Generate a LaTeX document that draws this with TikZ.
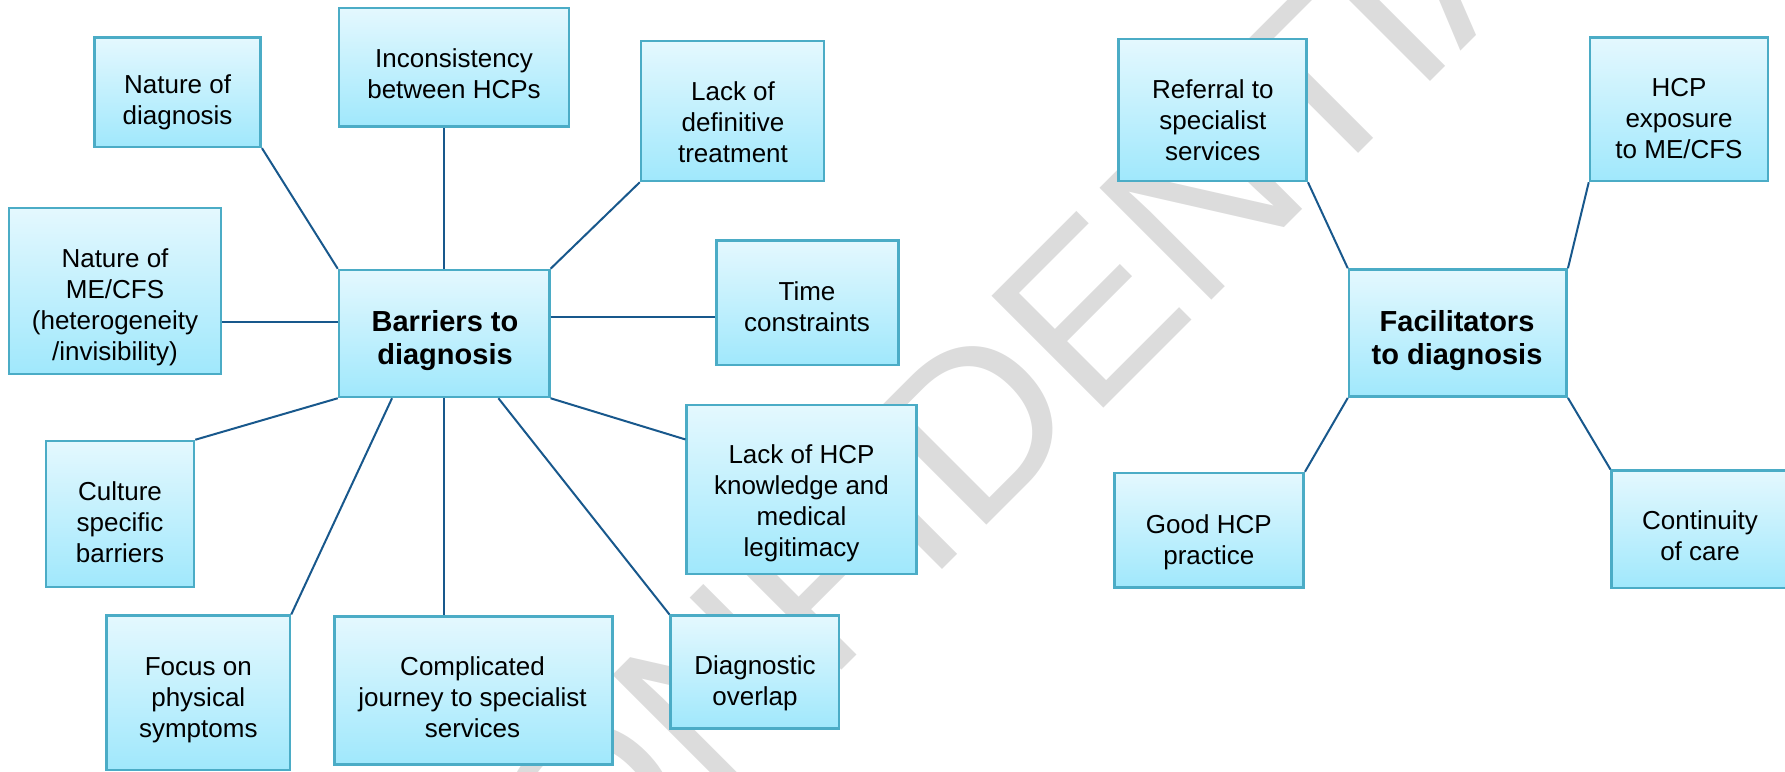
\documentclass[tikz,border=0pt]{standalone}
\usepackage{fontspec}
\setmainfont{Liberation Sans}
\usetikzlibrary{fit,calc}
\definecolor{boxborder}{RGB}{75,172,198}
\definecolor{boxtop}{RGB}{228,248,254}
\definecolor{boxbot}{RGB}{160,232,252}
\definecolor{linecol}{RGB}{24,88,140}
\definecolor{wmcol}{RGB}{220,220,220}
\tikzset{
  boxst/.style={draw=boxborder, line width=2.5pt, top color=boxtop, bottom color=boxbot, inner sep=0pt, rectangle},
  txt/.style={align=center, inner sep=0pt, text depth=0pt, font=\fontsize{26}{31}\selectfont},
  bigtxt/.style={align=center, inner sep=0pt, text depth=0pt, font=\fontsize{29}{33}\selectfont\bfseries},
  conn/.style={draw=linecol, line width=2pt},
  wm/.style={text=wmcol, inner sep=0pt, font=\fontsize{230}{230}\selectfont}
}
\begin{document}
\begin{tikzpicture}[x=1pt,y=-1pt]
\useasboundingbox (0,0) rectangle (1785,771);
\clip (0,0) rectangle (1785,771);
% watermark
\node[wm, rotate=45, anchor=base west] (wmark) at (467,1045) {CONFIDENTIAL};
% boxes
\node[boxst, fit={(94.5,37.6) (260.7,146.9)}] (natdiag) {};
\node[boxst, fit={(339,8) (569,126.5)}] (incons) {};
\node[boxst, fit={(641,41) (824,181)}] (lackdef) {};
\node[boxst, fit={(9,208) (221,374)}] (mecfs) {};
\node[boxst, fit={(339,270) (549.3,397)}] (barriers) {};
\node[boxst, fit={(716.7,240.7) (898.3,365)}] (time) {};
\node[boxst, fit={(46,441) (194,587)}] (culture) {};
\node[boxst, fit={(686.7,405) (916.7,574)}] (lackhcp) {};
\node[boxst, fit={(106.7,615.7) (290,770)}] (focus) {};
\node[boxst, fit={(334.7,616.7) (612.3,764.3)}] (compl) {};
\node[boxst, fit={(670.7,615.7) (839,728.3)}] (diag) {};
\node[boxst, fit={(1118.7,39) (1306.7,181)}] (referral) {};
\node[boxst, fit={(1590,37.5) (1768,181)}] (hcpexp) {};
\node[boxst, fit={(1349,269.5) (1566.7,396.7)}] (facil) {};
\node[boxst, fit={(1114.5,473) (1303.7,587.5)}] (goodhcp) {};
\node[boxst, fit={(1611.7,470.7) (1790,588)}] (contin) {};
% connectors
\coordinate (bw1) at ([yshift=11.3pt]barriers.west);
\coordinate (be1) at ([yshift=16.6pt]barriers.east);
\coordinate (bs1) at ($(barriers.south west)!0.255!(barriers.south east)$);
\coordinate (bs2) at ($(barriers.south west)!0.755!(barriers.south east)$);
\coordinate (lh1) at ([yshift=-35.7pt]lackhcp.north west);
\begin{scope}[on background layer/.style={}]
\end{scope}
% text
\node[txt] (natdiag-t) at (177.6,100) {Nature of\\diagnosis};
\node[txt] (incons-t) at (454,74) {Inconsistency\\between HCPs};
\node[txt] (lackdef-t) at (733,122.5) {Lack of\\definitive\\treatment};
\node[txt] (mecfs-t) at (115,304.5) {Nature of\\ME/CFS\\(heterogeneity\\/invisibility)};
\node[bigtxt] (barriers-t) at (445,337) {Barriers to\\diagnosis};
\node[txt] (time-t) at (807,306.3) {Time\\constraints};
\node[txt] (culture-t) at (120,522.5) {Culture\\specific\\barriers};
\node[txt] (lackhcp-t) at (801.5,500.7) {Lack of HCP\\knowledge and\\medical\\legitimacy};
\node[txt] (focus-t) at (198.3,697.5) {Focus on\\physical\\symptoms};
\node[txt] (compl-t) at (472.5,697.5) {Complicated\\journey to specialist\\services};
\node[txt] (diag-t) at (755,680.3) {Diagnostic\\overlap};
\node[txt] (referral-t) at (1212.8,119.7) {Referral to\\specialist\\services};
\node[txt] (hcpexp-t) at (1679,118) {HCP\\exposure\\to ME/CFS};
\node[bigtxt] (facil-t) at (1457,337) {Facilitators\\to diagnosis};
\node[txt] (goodhcp-t) at (1208.8,539.6) {Good HCP\\practice};
\node[txt] (contin-t) at (1700,535.8) {Continuity\\of care};
% connector lines (drawn over nothing overlapping boxes interior)
\draw[conn] (natdiag.south east) -- (barriers.north west);
\draw[conn] (barriers.north) -- (barriers.north |- incons.south);
\draw[conn] (lackdef.south west) -- (barriers.north east);
\draw[conn] (bw1) -- (bw1 -| mecfs.east);
\draw[conn] (be1) -- (be1 -| time.west);
\draw[conn] (culture.north east) -- (barriers.south west);
\draw[conn] (barriers.south east) -- (lh1);
\draw[conn] (bs1) -- (focus.north east);
\draw[conn] (barriers.south) -- (barriers.south |- compl.north);
\draw[conn] (bs2) -- (diag.north west);
\draw[conn] (referral.south east) -- (facil.north west);
\draw[conn] (hcpexp.south west) -- (facil.north east);
\draw[conn] (goodhcp.north east) -- (facil.south west);
\draw[conn] (contin.north west) -- (facil.south east);
\end{tikzpicture}
\end{document}
